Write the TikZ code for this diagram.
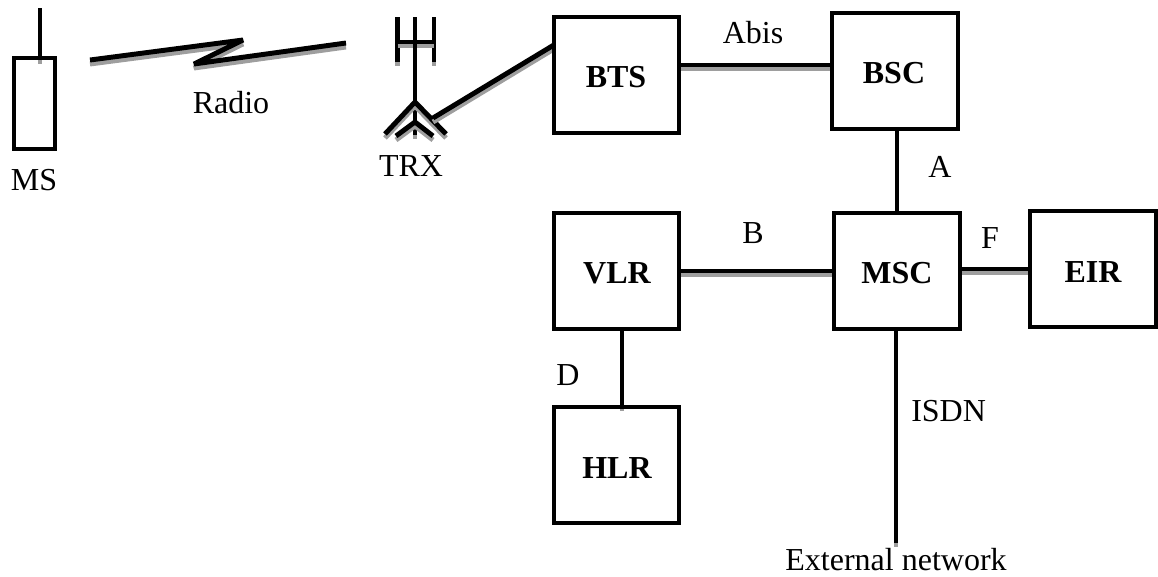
\documentclass[tikz,border=0pt]{standalone}
\usepackage{fontspec}
\setmainfont{Liberation Serif}
\definecolor{shadowgray}{gray}{0.62}
\tikzset{
  wirebase/.style={line width=3.7pt, line cap=butt, line join=miter, draw=black},
  boxnode/.style={draw=black, line width=3.2pt, fill=none, inner sep=0pt, outer sep=0pt, minimum width=94pt, minimum height=87pt},
  msbox/.style={boxnode, minimum width=30.5pt, minimum height=68pt},
  boxlabel/.style={inner sep=0pt, font=\fontsize{24}{28}\selectfont\bfseries},
  plainlabel/.style={inner sep=0pt, font=\fontsize{24}{28}\selectfont},
}
\newcommand\wirepath[2][]{%
  \begin{scope}[transform canvas={yshift=-3pt}]\draw[wirebase,#1,draw=shadowgray] #2;\end{scope}%
  \draw[wirebase,#1] #2;}
\begin{document}
\begin{tikzpicture}[x=0.75pt,y=-0.75pt]
\useasboundingbox (0,0) rectangle (1158,576);
\coordinate (msant) at (40,8);
\coordinate (msanb) at (40,60);
\coordinate (r1) at (90,60);
\coordinate (r2) at (243,40);
\coordinate (r3) at (194,64);
\coordinate (r4) at (346,43);
\coordinate (tt) at (415,17);
\coordinate (tb) at (415,135);
\coordinate (la) at (397.5,17);
\coordinate (lb) at (397.5,62);
\coordinate (ra) at (434,17);
\coordinate (rb) at (434,62);
\coordinate (fa) at (415,102);
\coordinate (fl) at (385,134);
\coordinate (fr) at (446,134);
\coordinate (ga) at (415,122);
\coordinate (gl) at (396,136);
\coordinate (gr) at (433,136);
\coordinate (tf) at (433,118);
\coordinate (isdnend) at (896,543);
\node[msbox] (ms) at (34.5,103.5) {};
\node[boxnode] (bts) at (616.5,75) {};
\node[boxnode] (bsc) at (895,71) {};
\node[boxnode] (msc) at (897,271) {};
\node[boxnode] (vlr) at (616.5,271) {};
\node[boxnode] (eir) at (1093,269) {};
\node[boxnode] (hlr) at (616.5,465) {};
\wirepath{(msant) -- (msanb)}
\wirepath[line join=bevel]{(r1) -- (r2) -- (r3) -- (r4)}
\wirepath{(la) -- (lb)}
\wirepath{(ra) -- (rb)}
\wirepath[line width=2.8pt]{(la |- 0,42) -- (ra |- 0,42)}
\wirepath{(tt) -- (tb)}
\wirepath{(fl) -- (fa) -- (fr)}
\wirepath{(gl) -- (ga) -- (gr)}
\wirepath{(tf) -- (bts.west |- 0,45)}
\wirepath{(bts.east |- 0,65) -- (bsc.west |- 0,65)}
\wirepath{(vlr.east |- 0,271) -- (msc.west |- 0,271)}
\wirepath{(msc.east |- 0,269) -- (eir.west |- 0,269)}
\draw[wirebase] (bsc.south -| 897,0) -- (msc.north -| 897,0);
\wirepath{(vlr.south -| 622,0) -- (hlr.north -| 622,0)}
\wirepath{(msc.south -| 896,0) -- (isdnend)}
\node[msbox] at (ms) {};
\node[boxnode] at (bts) {};
\node[boxnode] at (bsc) {};
\node[boxnode] at (msc) {};
\node[boxnode] at (vlr) {};
\node[boxnode] at (eir) {};
\node[boxnode] at (hlr) {};
\node[boxlabel] (tbts) at (616,77) {BTS};
\node[boxlabel] (tbsc) at (894,73) {BSC};
\node[boxlabel] (tmsc) at (897,273) {MSC};
\node[boxlabel] (tvlr) at (617,273) {VLR};
\node[boxlabel] (teir) at (1093,272) {EIR};
\node[boxlabel] (thlr) at (617,468) {HLR};
\node[plainlabel] (lms) at (34,180) {MS};
\node[plainlabel] (lradio) at (231,103) {Radio};
\node[plainlabel] (ltrx) at (411,166) {TRX};
\node[plainlabel] (labis) at (753,33) {Abis};
\node[plainlabel] (la2) at (940,167) {A};
\node[plainlabel] (lb2) at (753,233) {B};
\node[plainlabel] (lf) at (990,238) {F};
\node[plainlabel] (ld) at (568,375) {D};
\node[plainlabel,anchor=west] (lisdn) at (911,411) {ISDN};
\node[plainlabel] (lext) at (896,560) {External network};
\end{tikzpicture}
\end{document}
